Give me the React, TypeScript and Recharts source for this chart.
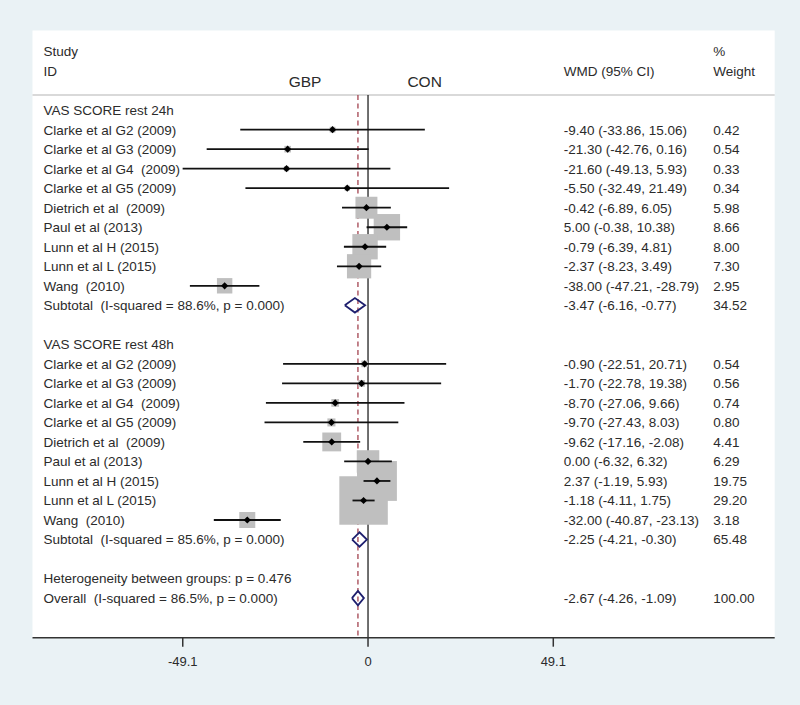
import React from "react";
import {
  ScatterChart,
  Scatter,
  XAxis,
  YAxis,
  ReferenceLine,
  CartesianGrid,
} from "recharts";

// study rows (same labels in both groups)
const studyNames = [
  "Clarke et al G2 (2009)",
  "Clarke et al G3 (2009)",
  "Clarke et al G4  (2009)",
  "Clarke et al G5 (2009)",
  "Dietrich et al  (2009)",
  "Paul et al (2013)",
  "Lunn et al H (2015)",
  "Lunn et al L (2015)",
  "Wang  (2010)",
];

const groupTitles = ["VAS SCORE rest 24h", "VAS SCORE rest 48h"];

const est24 = [-9.4, -21.3, -21.6, -5.5, -0.42, 5.0, -0.79, -2.37, -38.0];
const lo24 = [-33.86, -42.76, -49.13, -32.49, -6.89, -0.38, -6.39, -8.23, -47.21];
const hi24 = [15.06, 0.16, 5.93, 21.49, 6.05, 10.38, 4.81, 3.49, -28.79];
const wt24 = [0.42, 0.54, 0.33, 0.34, 5.98, 8.66, 8.0, 7.3, 2.95];

const est48 = [-0.9, -1.7, -8.7, -9.7, -9.62, 0.0, 2.37, -1.18, -32.0];
const lo48 = [-22.51, -22.78, -27.06, -27.43, -17.16, -6.32, -1.19, -4.11, -40.87];
const hi48 = [20.71, 19.38, 9.66, 8.03, -2.08, 6.32, 5.93, 1.75, -23.13];
const wt48 = [0.54, 0.56, 0.74, 0.8, 4.41, 6.29, 19.75, 29.2, 3.18];

const pooledLabels = [
  "Subtotal  (I-squared = 88.6%, p = 0.000)",
  "Subtotal  (I-squared = 85.6%, p = 0.000)",
  "Overall  (I-squared = 86.5%, p = 0.000)",
];
const pooledEst = [-3.47, -2.25, -2.67];
const pooledLo = [-6.16, -4.21, -4.26];
const pooledHi = [-0.77, -0.3, -1.09];
const pooledWt = [34.52, 65.48, 100.0];

const hetNote = "Heterogeneity between groups: p = 0.476";
const sideLabels = ["GBP", "CON"];
const xTicks = [-49.1, 0, 49.1];

// layout (data units)
const X_DOMAIN = [-88.92, 107.78];
const Y_DOMAIN = [-4.08, 27.03];
const HEAD_Y = -0.77;
const LABEL_X = -86.0;
const WMD_X = 51.9;
const WT_X = 91.5;
const SIDE_X = [-16.7, 15.0];
const DIAMOND_H = 0.37;
const BOX_K = 8.97; // px per sqrt(weight)
const FS = 13.5;

const TXT = "#2b2b2b";
const NAVY = "#1e1f6e";

const fmt = (v: number) => v.toFixed(2);

const groups = [
  { est: est24, lo: lo24, hi: hi24, wt: wt24 },
  { est: est48, lo: lo48, hi: hi48, wt: wt48 },
];

const studyPts: any[] = [];
const ciSegments: any[][] = [];
const leftTexts: any[] = [
  { x: LABEL_X, y: -3, t: "Study" },
  { x: LABEL_X, y: -2, t: "ID" },
];
const wmdTexts: any[] = [{ x: WMD_X, y: -2, t: "WMD (95% CI)" }];
const wtTexts: any[] = [
  { x: WT_X, y: -3, t: "%" },
  { x: WT_X, y: -2, t: "Weight" },
];
const pooledRows = [10, 22, 25];

groups.forEach((g, gi) => {
  const start = gi * 12;
  leftTexts.push({ x: LABEL_X, y: start, t: groupTitles[gi] });
  studyNames.forEach((name, i) => {
    const row = start + 1 + i;
    studyPts.push({ x: g.est[i], y: row, w: g.wt[i] });
    ciSegments.push([
      { x: g.lo[i], y: row },
      { x: g.hi[i], y: row },
    ]);
    leftTexts.push({ x: LABEL_X, y: row, t: name });
    wmdTexts.push({
      x: WMD_X,
      y: row,
      t: `${fmt(g.est[i])} (${fmt(g.lo[i])}, ${fmt(g.hi[i])})`,
    });
    wtTexts.push({ x: WT_X, y: row, t: fmt(g.wt[i]) });
  });
});
leftTexts.push({ x: LABEL_X, y: 24, t: hetNote });
pooledLabels.forEach((lab, k) => {
  const row = pooledRows[k];
  leftTexts.push({ x: LABEL_X, y: row, t: lab });
  wmdTexts.push({
    x: WMD_X,
    y: row,
    t: `${fmt(pooledEst[k])} (${fmt(pooledLo[k])}, ${fmt(pooledHi[k])})`,
  });
  wtTexts.push({ x: WT_X, y: row, t: fmt(pooledWt[k]) });
});
const sideTexts = sideLabels.map((t, i) => ({ x: SIDE_X[i], y: -1.49, t }));

const diamonds = pooledEst.map((e, k) => {
  const r = pooledRows[k];
  return [
    { x: pooledLo[k], y: r },
    { x: e, y: r - DIAMOND_H },
    { x: pooledHi[k], y: r },
    { x: e, y: r + DIAMOND_H },
    { x: pooledLo[k], y: r },
  ];
});

const makeText =
  (fontSize: number, anchor: "start" | "middle") => (p: any) =>
    (
      <text
        x={p.cx}
        y={p.cy}
        dy="0.36em"
        textAnchor={anchor}
        fontSize={fontSize}
        fill={TXT}
        style={{ whiteSpace: "pre" }}
      >
        {p.payload.t}
      </text>
    );

const BoxShape = (p: any) => {
  const s = BOX_K * Math.sqrt(p.payload.w);
  return <rect x={p.cx - s / 2} y={p.cy - s / 2} width={s} height={s} fill="#bfbfbf" />;
};

const DotShape = (p: any) => {
  const r = 3.6;
  return (
    <polygon
      points={`${p.cx - r},${p.cy} ${p.cx},${p.cy - r} ${p.cx + r},${p.cy} ${p.cx},${p.cy + r}`}
      fill="#000"
    />
  );
};

const Empty = () => <g />;

export default function App() {
  return (
    <div
      style={{
        position: "absolute",
        left: 0,
        top: 0,
        width: 800,
        height: 705,
        background: "#eaf2f5",
        fontFamily: "'Liberation Sans', Arial, Helvetica, sans-serif",
      }}
    >
      <ScatterChart
        width={800}
        height={705}
        margin={{ top: 30.5, right: 25.3, bottom: 27.3, left: 32.5 }}
      >
        <CartesianGrid horizontal={false} vertical={false} fill="#ffffff" />
        <XAxis
          type="number"
          dataKey="x"
          domain={X_DOMAIN}
          ticks={xTicks}
          interval={0}
          allowDataOverflow
          height={40}
          tickSize={9}
          tickMargin={10}
          axisLine={{ stroke: "#333", strokeWidth: 1.5 }}
          tickLine={{ stroke: "#333", strokeWidth: 1.5 }}
          tick={{ fill: TXT, fontSize: 13 }}
        />
        <YAxis type="number" dataKey="y" domain={Y_DOMAIN} reversed hide allowDataOverflow />
        <ReferenceLine y={HEAD_Y} stroke="#cccccc" strokeWidth={1.5} />
        <ReferenceLine
          segment={[
            { x: 0, y: HEAD_Y },
            { x: 0, y: Y_DOMAIN[1] },
          ]}
          stroke="#222"
          strokeWidth={1.3}
          ifOverflow="visible"
        />
        <ReferenceLine
          segment={[
            { x: pooledEst[2], y: HEAD_Y },
            { x: pooledEst[2], y: Y_DOMAIN[1] },
          ]}
          stroke="#a3434f"
          strokeWidth={1.3}
          strokeDasharray="5 3.5"
          ifOverflow="visible"
        />
        <Scatter data={studyPts} shape={BoxShape} isAnimationActive={false} />
        {ciSegments.map((seg, k) => (
          <Scatter
            key={`ci${k}`}
            data={seg}
            shape={Empty}
            line={{ stroke: "#111", strokeWidth: 1.8 }}
            lineType="joint"
            isAnimationActive={false}
          />
        ))}
        <Scatter data={studyPts} shape={DotShape} isAnimationActive={false} />
        {diamonds.map((d, k) => (
          <Scatter
            key={`d${k}`}
            data={d}
            shape={Empty}
            line={{ stroke: NAVY, strokeWidth: 1.8, fill: "none" }}
            lineType="joint"
            isAnimationActive={false}
          />
        ))}
        <Scatter data={leftTexts} shape={makeText(FS, "start")} isAnimationActive={false} />
        <Scatter data={wmdTexts} shape={makeText(FS, "start")} isAnimationActive={false} />
        <Scatter data={wtTexts} shape={makeText(FS, "start")} isAnimationActive={false} />
        <Scatter data={sideTexts} shape={makeText(15.5, "middle")} isAnimationActive={false} />
      </ScatterChart>
    </div>
  );
}
